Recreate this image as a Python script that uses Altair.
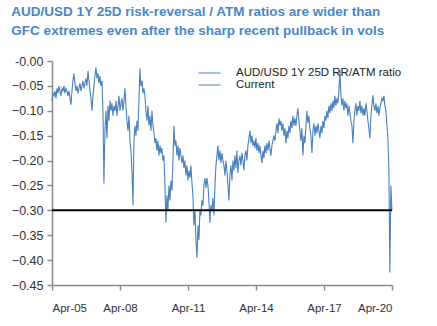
import altair as alt
import pandas as pd

TITLE = ["AUD/USD 1Y 25D risk-reversal / ATM ratios are wider than",
         "GFC extremes even after the sharp recent pullback in vols"]
SERIES = "AUD/USD 1Y 25D RR/ATM ratio"
CURRENT_LABEL = "Current"
CURRENT_LEVEL = [-0.30]
X_TICKS = ["2005-04-01", "2008-04-01", "2011-04-01", "2014-04-01", "2017-04-01", "2020-04-01"]
Y_TICKS = [-0.45, -0.40, -0.35, -0.30, -0.25, -0.20, -0.15, -0.10, -0.05, 0.0]
START, END = "2005-04-01", "2020-03-31"

# roughly every two weeks, Apr-05 .. Mar-20
ratio = [
    # 2005
    -0.080, -0.065, -0.070, -0.060, -0.075, -0.055, -0.065, -0.050, -0.060, -0.070,
    -0.055, -0.060, -0.050, -0.065, -0.055, -0.060, -0.070,
    # 2006
    -0.060, -0.075, -0.088, -0.060, -0.040, -0.025, -0.045, -0.060, -0.050, -0.065,
    -0.055, -0.045, -0.060, -0.050, -0.040, -0.055, -0.045, -0.035, -0.050, -0.020,
    -0.040, -0.060, -0.075, -0.100,
    # 2007
    -0.070, -0.050, -0.030, -0.013, -0.035, -0.025, -0.045, -0.030, -0.050, -0.040,
    -0.100, -0.246, -0.140, -0.100, -0.155, -0.090, -0.120, -0.080, -0.100, -0.085,
    -0.110, -0.090,
    # 2008
    -0.100, -0.080, -0.110, -0.090, -0.070, -0.100, -0.085, -0.075, -0.100, -0.080,
    -0.055, -0.090, -0.120, -0.140, -0.110, -0.160, -0.180, -0.220, -0.290, -0.160,
    -0.130, -0.150, -0.120,
    # 2009
    -0.140, -0.080, -0.015, -0.050, -0.040, -0.065, -0.055, -0.070, -0.100, -0.120,
    -0.090, -0.130, -0.110, -0.140, -0.100, -0.130, -0.145, -0.165, -0.155, -0.180,
    -0.160, -0.190,
    # 2010
    -0.170, -0.185, -0.175, -0.200, -0.190, -0.250, -0.325, -0.270, -0.300, -0.250,
    -0.280, -0.240, -0.260, -0.200, -0.130, -0.170, -0.160, -0.190, -0.170, -0.200,
    -0.175, -0.190, -0.205,
    # 2011
    -0.190, -0.215, -0.200, -0.230, -0.210, -0.240, -0.220, -0.235, -0.210, -0.245,
    -0.270, -0.330, -0.300, -0.360, -0.395, -0.330, -0.360, -0.300, -0.310, -0.280,
    -0.290, -0.250, -0.235,
    # 2012
    -0.255, -0.235, -0.250, -0.280, -0.325, -0.290, -0.300, -0.275, -0.310, -0.250,
    -0.210, -0.190, -0.170, -0.200, -0.180, -0.205, -0.185, -0.200, -0.210, -0.230,
    -0.200, -0.220,
    # 2013
    -0.250, -0.280, -0.230, -0.210, -0.240, -0.200, -0.220, -0.190, -0.215, -0.180,
    -0.225, -0.200, -0.190, -0.210, -0.185, -0.200, -0.220, -0.190, -0.180, -0.200,
    -0.170, -0.155, -0.140,
    # 2014
    -0.165, -0.150, -0.170, -0.160, -0.175, -0.155, -0.180, -0.165, -0.185, -0.170,
    -0.190, -0.205, -0.180, -0.195, -0.170, -0.185, -0.165, -0.180, -0.160, -0.175,
    -0.190, -0.170, -0.160,
    # 2015
    -0.150, -0.160, -0.140, -0.125, -0.145, -0.115, -0.130, -0.120, -0.140, -0.125,
    -0.150, -0.135, -0.165, -0.140, -0.155, -0.130, -0.145, -0.120, -0.135, -0.110,
    -0.130, -0.115,
    # 2016
    -0.130, -0.110, -0.095, -0.120, -0.140, -0.160, -0.135, -0.190, -0.150, -0.165,
    -0.130, -0.100, -0.125, -0.110, -0.135, -0.150, -0.185, -0.140, -0.125, -0.150,
    -0.130, -0.145, -0.125,
    # 2017
    -0.140, -0.155, -0.130, -0.145, -0.120, -0.135, -0.110, -0.120, -0.100, -0.115,
    -0.090, -0.105, -0.085, -0.100, -0.080, -0.095, -0.070, -0.090, -0.075, -0.085,
    -0.060, -0.019, -0.070,
    # 2018
    -0.090, -0.075, -0.100, -0.080, -0.095, -0.085, -0.110, -0.090, -0.105, -0.120,
    -0.130, -0.165, -0.120, -0.100, -0.085, -0.110, -0.090, -0.100, -0.080, -0.105,
    -0.090, -0.110, -0.095,
    # 2019 - 2020
    -0.110, -0.085, -0.100, -0.120, -0.135, -0.155, -0.110, -0.090, -0.069, -0.090,
    -0.100, -0.085, -0.105, -0.090, -0.110, -0.095, -0.085, -0.075, -0.080, -0.070,
    -0.090, -0.100, -0.130, -0.155, -0.220, -0.425, -0.250, -0.300,
]

dates = pd.date_range(START, END, periods=len(ratio))
df = pd.DataFrame({"date": dates.strftime("%Y-%m-%d"), "value": ratio, "series": SERIES})
cur = pd.DataFrame({"value": CURRENT_LEVEL})

FONT = "Liberation Sans"
BLUE = "#4a80be"

x = alt.X("date:T", title=None,
          scale=alt.Scale(type="utc", domain=[START, "2020-04-01"]),
          axis=alt.Axis(values=X_TICKS, format="%b-%y", grid=False,
                        tickSize=5, labelPadding=12, labelFontSize=11.5,
                        labelColor="#333333", labelFont=FONT, labelOverlap=False,
                        domainColor="#8a8a8a", tickColor="#8a8a8a",
                        domainWidth=1.5, tickWidth=1.5))
y = alt.Y("value:Q", title=None,
          scale=alt.Scale(domain=[-0.45, 0.0], nice=False, zero=False),
          axis=alt.Axis(values=Y_TICKS, format=".2f", grid=False,
                        tickSize=5, labelPadding=4, labelFontSize=12.5,
                        labelColor="#333333", labelFont=FONT, labelOverlap=False,
                        labelFlush=False,
                        labelExpr="datum.value == 0 ? '-0.00' : datum.label",
                        domainColor="#8a8a8a", tickColor="#8a8a8a",
                        domainWidth=1.5, tickWidth=1.5))

line = alt.Chart(df).mark_line(strokeWidth=1.1, interpolate="linear").encode(
    x=x, y=y,
    color=alt.Color("series:N",
                    scale=alt.Scale(domain=[SERIES, CURRENT_LABEL], range=[BLUE, BLUE]),
                    legend=alt.Legend(title=None, orient="none", legendX=151.5, legendY=6,
                                      symbolType="M-2,0L2,0", symbolSize=121,
                                      symbolStrokeWidth=1, symbolStrokeColor=BLUE,
                                      labelFontSize=11.5,
                                      labelFont=FONT, labelColor="#222222",
                                      labelLimit=300, labelOffset=20.5, rowPadding=0)),
)

rule = alt.Chart(cur).mark_rule(color="black", strokeWidth=2).encode(y=y)

chart = alt.layer(line, rule).properties(
    width=340, height=224,
    padding={"left": 52, "top": 61, "right": 45, "bottom": 41},
    autosize=alt.AutoSizeParams(type="none"),
    title=alt.Title(TITLE, anchor="start", offset=18, fontSize=13.5,
                    font=FONT, fontWeight="bold",
                    color="#4a86c8", lineHeight=19),
).configure_view(stroke=None)

chart.save("out.html", embed_options={"renderer": "svg", "actions": False})
